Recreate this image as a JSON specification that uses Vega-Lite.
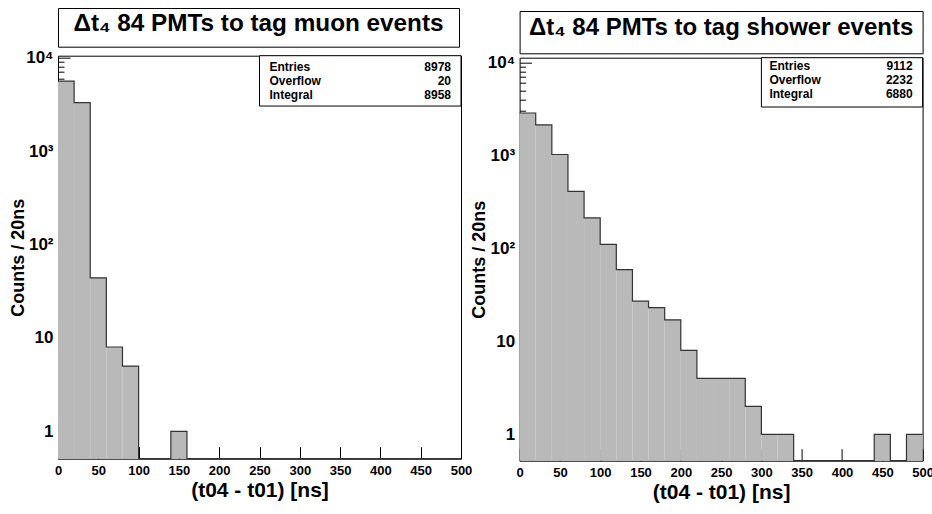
{
  "$schema": "https://vega.github.io/schema/vega-lite/v6.json",
  "background": "white",
  "padding": {"left": 8, "top": 7, "right": 10, "bottom": 50},
  "config": {
    "view": {"stroke": null},
    "font": "Liberation Sans",
    "axis": {"labelFont": "Liberation Sans", "titleFont": "Liberation Sans", "labelFontWeight": "bold", "titleFontWeight": "bold", "labelColor": "#000", "titleColor": "#000", "tickColor": "#000", "tickWidth": 1, "domain": false, "grid": false, "labelOverlap": false, "labelBound": false},
    "axisX": {"values": [0, 50, 100, 150, 200, 250, 300, 350, 400, 450, 500], "tickSize": -12, "labelFontSize": 13, "labelPadding": 18, "labelFlush": false, "format": "d", "titleFontSize": 21, "titleY": 32, "titleBaseline": "middle"}
  },
  "bounds": "flush",
  "spacing": 461.6,
  "hconcat": [
    {
      "bounds": "flush",
      "spacing": 8.7,
      "vconcat": [
        {
          "width": 401, "height": 38.7,
          "view": {"stroke": "#000", "strokeWidth": 1},
          "data": {"values": [{}]},
          "mark": {"type": "text", "text": "Δt₄ 84 PMTs to tag muon events", "fontSize": 24.3, "fontWeight": "bold", "baseline": "middle", "dy": -3, "font": "Liberation Sans", "color": "#000"}
        },
        {
          "width": 403, "height": 403,
          "view": {"stroke": "#000", "strokeWidth": 1},
          "data": {"values": [
            {"from": 0, "to": 20, "count": 5600},
            {"from": 20, "to": 40, "count": 3300},
            {"from": 40, "to": 60, "count": 44},
            {"from": 60, "to": 80, "count": 8},
            {"from": 80, "to": 100, "count": 5},
            {"from": 100, "to": 120, "count": 0},
            {"from": 120, "to": 140, "count": 0},
            {"from": 140, "to": 160, "count": 1},
            {"from": 160, "to": 180, "count": 0},
            {"from": 180, "to": 200, "count": 0},
            {"from": 200, "to": 220, "count": 0},
            {"from": 220, "to": 240, "count": 0},
            {"from": 240, "to": 260, "count": 0},
            {"from": 260, "to": 280, "count": 0},
            {"from": 280, "to": 300, "count": 0},
            {"from": 300, "to": 320, "count": 0},
            {"from": 320, "to": 340, "count": 0},
            {"from": 340, "to": 360, "count": 0},
            {"from": 360, "to": 380, "count": 0},
            {"from": 380, "to": 400, "count": 0},
            {"from": 400, "to": 420, "count": 0},
            {"from": 420, "to": 440, "count": 0},
            {"from": 440, "to": 460, "count": 0},
            {"from": 460, "to": 480, "count": 0},
            {"from": 480, "to": 500, "count": 0}
          ]},
          "resolve": {"axis": {"y": "independent"}},
          "layer": [
            {
              "transform": [{"filter": "datum.count > 0"}],
              "mark": {"type": "rect", "fill": "#b9b9b9", "stroke": null},
              "encoding": {
                "x": {"field": "from", "type": "quantitative",
                  "scale": {"domain": [0, 500], "nice": false, "zero": false},
                  "title": "(t04 - t01) [ns]"},
                "x2": {"field": "to"},
                "y": {"field": "count", "type": "quantitative",
                  "scale": {"type": "log", "domain": [0.51, 10500], "nice": false, "clamp": true},
                  "axis": {"orient": "left", "values": [1, 10, 100, 1000, 10000], "tickSize": -12,
                    "labelExpr": "datum.value == 1 ? '1' : datum.value == 10 ? '10' : datum.value == 100 ? '10²' : datum.value == 1000 ? '10³' : '10⁴'",
                    "labelFontSize": 17, "labelPadding": 17,
                    "title": "Counts / 20ns", "titleFontSize": 18, "titleX": -40, "titleY": 201.5, "titleBaseline": "middle"}},
                "y2": {"datum": 0.51}
              }
            },
            {
              "transform": [{"fold": ["from", "to"], "as": ["side", "edge"]}],
              "mark": {"type": "line", "color": "#333", "strokeWidth": 1.2, "interpolate": "linear"},
              "encoding": {
                "x": {"field": "edge", "type": "quantitative", "title": "(t04 - t01) [ns]"},
                "y": {"field": "count", "type": "quantitative",
                  "axis": {"orient": "left", "values": [0.6, 0.7, 0.8, 0.9, 2, 3, 4, 5, 6, 7, 8, 9, 20, 30, 40, 50, 60, 70, 80, 90, 200, 300, 400, 500, 600, 700, 800, 900, 2000, 3000, 4000, 5000, 6000, 7000, 8000, 9000], "tickSize": -6, "labels": false, "title": null}},
                "order": [{"field": "from", "type": "quantitative"}, {"field": "side", "type": "nominal"}]
              }
            },
            {
              "data": {"values": [{}]},
              "mark": {"type": "rect", "fill": "white", "stroke": "#000", "strokeWidth": 1},
              "encoding": {
                "x": {"datum": 250, "type": "quantitative", "title": "(t04 - t01) [ns]"},
                "x2": {"datum": 500},
                "y": {"datum": 10500, "type": "quantitative", "axis": null},
                "y2": {"datum": 3035}
              }
            },
            {
              "data": {"values": [{}]},
              "mark": {"type": "text", "text": ["Entries", "Overflow", "Integral"], "align": "left", "baseline": "middle", "fontSize": 12, "fontWeight": "bold", "lineHeight": 14, "dx": 10, "dy": 11.5, "font": "Liberation Sans", "color": "#000"},
              "encoding": {
                "x": {"datum": 250, "type": "quantitative", "title": "(t04 - t01) [ns]"},
                "y": {"datum": 10500, "type": "quantitative", "axis": null}
              }
            },
            {
              "data": {"values": [{}]},
              "mark": {"type": "text", "text": ["8978", "20", "8958"], "align": "right", "baseline": "middle", "fontSize": 12, "fontWeight": "bold", "lineHeight": 14, "dx": -10, "dy": 11.5, "font": "Liberation Sans", "color": "#000"},
              "encoding": {
                "x": {"datum": 500, "type": "quantitative", "title": "(t04 - t01) [ns]"},
                "y": {"datum": 10500, "type": "quantitative", "axis": null}
              }
            }
          ]
        }
      ]
    },
    {
      "bounds": "flush",
      "spacing": 49.7,
      "vconcat": [
        {
          "bounds": "flush",
          "spacing": 0,
          "vconcat": [
            {
              "width": 403, "height": 2.7,
              "data": {"values": []},
              "mark": {"type": "text"}
            },
            {
              "width": 403, "height": 42.3,
              "view": {"stroke": "#000", "strokeWidth": 1},
              "data": {"values": [{}]},
              "mark": {"type": "text", "text": "Δt₄ 84 PMTs to tag shower events", "fontSize": 24, "fontWeight": "bold", "baseline": "middle", "dy": -4.5, "font": "Liberation Sans", "color": "#000"}
            }
          ]
        },
        {
          "width": 403, "height": 403,
          "view": {"stroke": "#000", "strokeWidth": 1},
          "data": {"values": [
            {"from": 0, "to": 20, "count": 2850},
            {"from": 20, "to": 40, "count": 2126},
            {"from": 40, "to": 60, "count": 1020},
            {"from": 60, "to": 80, "count": 410},
            {"from": 80, "to": 100, "count": 212},
            {"from": 100, "to": 120, "count": 110},
            {"from": 120, "to": 140, "count": 59},
            {"from": 140, "to": 160, "count": 27},
            {"from": 160, "to": 180, "count": 23},
            {"from": 180, "to": 200, "count": 17},
            {"from": 200, "to": 220, "count": 8},
            {"from": 220, "to": 240, "count": 4},
            {"from": 240, "to": 260, "count": 4},
            {"from": 260, "to": 280, "count": 4},
            {"from": 280, "to": 300, "count": 2},
            {"from": 300, "to": 320, "count": 1},
            {"from": 320, "to": 340, "count": 1},
            {"from": 340, "to": 360, "count": 0},
            {"from": 360, "to": 380, "count": 0},
            {"from": 380, "to": 400, "count": 0},
            {"from": 400, "to": 420, "count": 0},
            {"from": 420, "to": 440, "count": 0},
            {"from": 440, "to": 460, "count": 1},
            {"from": 460, "to": 480, "count": 0},
            {"from": 480, "to": 500, "count": 1}
          ]},
          "resolve": {"axis": {"y": "independent"}},
          "layer": [
            {
              "transform": [{"filter": "datum.count > 0"}],
              "mark": {"type": "rect", "fill": "#b9b9b9", "stroke": null},
              "encoding": {
                "x": {"field": "from", "type": "quantitative",
                  "scale": {"domain": [0, 500], "nice": false, "zero": false},
                  "title": "(t04 - t01) [ns]"},
                "x2": {"field": "to"},
                "y": {"field": "count", "type": "quantitative",
                  "scale": {"type": "log", "domain": [0.52, 11200], "nice": false, "clamp": true},
                  "axis": {"orient": "left", "values": [1, 10, 100, 1000, 10000], "tickSize": -12,
                    "labelExpr": "datum.value == 1 ? '1' : datum.value == 10 ? '10' : datum.value == 100 ? '10²' : datum.value == 1000 ? '10³' : '10⁴'",
                    "labelFontSize": 17, "labelPadding": 17,
                    "title": "Counts / 20ns", "titleFontSize": 18, "titleX": -40, "titleY": 201.5, "titleBaseline": "middle"}},
                "y2": {"datum": 0.52}
              }
            },
            {
              "transform": [{"fold": ["from", "to"], "as": ["side", "edge"]}],
              "mark": {"type": "line", "color": "#333", "strokeWidth": 1.2, "interpolate": "linear"},
              "encoding": {
                "x": {"field": "edge", "type": "quantitative", "title": "(t04 - t01) [ns]"},
                "y": {"field": "count", "type": "quantitative",
                  "axis": {"orient": "left", "values": [0.6, 0.7, 0.8, 0.9, 2, 3, 4, 5, 6, 7, 8, 9, 20, 30, 40, 50, 60, 70, 80, 90, 200, 300, 400, 500, 600, 700, 800, 900, 2000, 3000, 4000, 5000, 6000, 7000, 8000, 9000], "tickSize": -6, "labels": false, "title": null}},
                "order": [{"field": "from", "type": "quantitative"}, {"field": "side", "type": "nominal"}]
              }
            },
            {
              "data": {"values": [{}]},
              "mark": {"type": "rect", "fill": "white", "stroke": "#000", "strokeWidth": 1},
              "encoding": {
                "x": {"datum": 300, "type": "quantitative", "title": "(t04 - t01) [ns]"},
                "x2": {"datum": 500},
                "y": {"datum": 11200, "type": "quantitative", "axis": null},
                "y2": {"datum": 3303}
              }
            },
            {
              "data": {"values": [{}]},
              "mark": {"type": "text", "text": ["Entries", "Overflow", "Integral"], "align": "left", "baseline": "middle", "fontSize": 12, "fontWeight": "bold", "lineHeight": 14, "dx": 8, "dy": 8.5, "font": "Liberation Sans", "color": "#000"},
              "encoding": {
                "x": {"datum": 300, "type": "quantitative", "title": "(t04 - t01) [ns]"},
                "y": {"datum": 11200, "type": "quantitative", "axis": null}
              }
            },
            {
              "data": {"values": [{}]},
              "mark": {"type": "text", "text": ["9112", "2232", "6880"], "align": "right", "baseline": "middle", "fontSize": 12, "fontWeight": "bold", "lineHeight": 14, "dx": -10, "dy": 8.5, "font": "Liberation Sans", "color": "#000"},
              "encoding": {
                "x": {"datum": 500, "type": "quantitative", "title": "(t04 - t01) [ns]"},
                "y": {"datum": 11200, "type": "quantitative", "axis": null}
              }
            }
          ]
        }
      ]
    }
  ]
}
